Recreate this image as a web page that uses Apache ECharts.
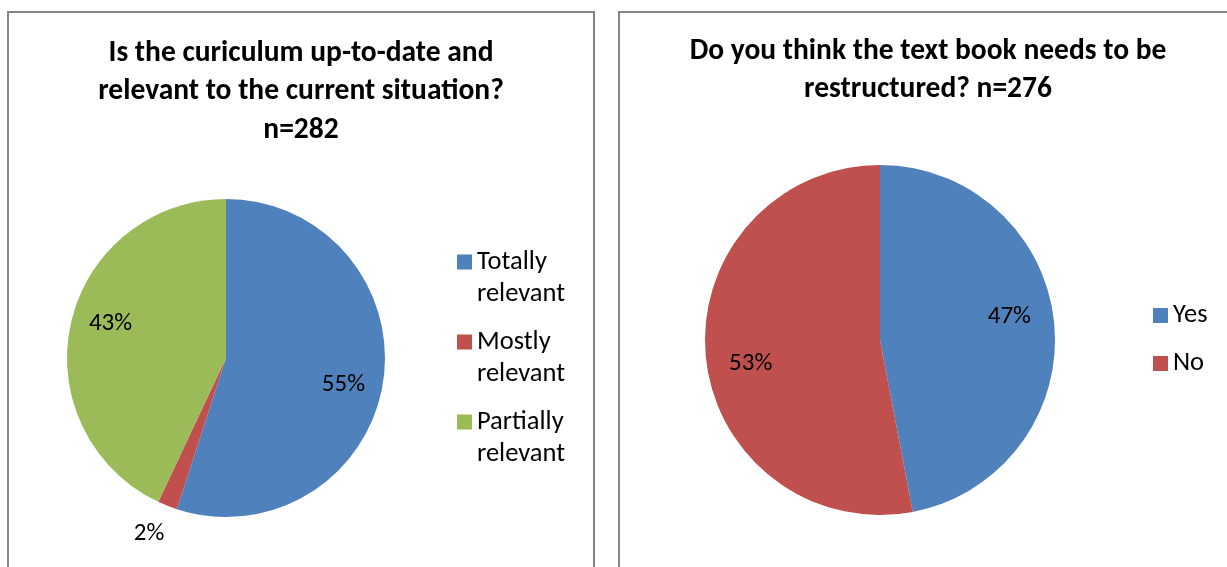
<!DOCTYPE html>
<html>
<head>
<meta charset="utf-8">
<script src="https://cdn.jsdelivr.net/npm/echarts@6/dist/echarts.min.js"></script>
<style>
html,body{margin:0;padding:0;background:#fff;}
#c{width:1227px;height:567px;}
</style>
</head>
<body>
<div id="c"></div>
<script>
// ---- data ----
var curCategories = ['Totally relevant', 'Mostly relevant', 'Partially relevant'];
var curValues = [55, 2, 43];
var curTitle = 'Is the curiculum up-to-date and\nrelevant to the current situation?\nn=282';

var bookCategories = ['Yes', 'No'];
var bookValues = [47, 53];
var bookTitle = 'Do you think the text book needs to be\nrestructured? n=276';

var curColors = ['#4F81BD', '#C0504D', '#9BBB59'];
var bookColors = ['#4F81BD', '#C0504D'];

var FONT = 'Carlito, Calibri, Lato, sans-serif';

function mk(names, values) {
  return names.map(function (n, i) { return { name: n, value: values[i] }; });
}
function pct(p) { return Math.round(p.percent) + '%'; }

var chart = echarts.init(document.getElementById('c'), null, { renderer: 'canvas' });

var labelStyle = { color: '#000', fontSize: 25, fontFamily: FONT };

var curInner = mk(curCategories, curValues).map(function (d, i) {
  d.label = { show: i !== 1 };
  return d;
});
var curOuter = mk(curCategories, curValues).map(function (d, i) {
  d.label = { show: i === 1 };
  return d;
});

var labelSeriesBase = {
  type: 'pie',
  silent: true,
  clockwise: true,
  itemStyle: { color: 'rgba(0,0,0,0)' },
  labelLine: { show: false },
  emphasis: { disabled: true },
  animation: false
};

var titleStyle = { fontSize: 29.5, fontWeight: 'bold', fontFamily: FONT, color: '#000', lineHeight: 38.5 };

var option = {
  animation: false,
  graphic: [
    { type: 'rect', shape: { x: 8, y: 12, width: 586, height: 600 }, style: { fill: 'none', stroke: '#868686', lineWidth: 2 } },
    { type: 'rect', shape: { x: 619, y: 12, width: 640, height: 600 }, style: { fill: 'none', stroke: '#868686', lineWidth: 2 } }
  ],
  title: [
    { text: curTitle, left: 301, top: 34, textAlign: 'center', padding: 0, textStyle: titleStyle },
    { text: bookTitle, left: 928, top: 32, textAlign: 'center', padding: 0, textStyle: titleStyle }
  ],
  legend: [
    { data: curCategories, orient: 'vertical', left: 457, top: 214, padding: 0,
      icon: 'rect', itemWidth: 15, itemHeight: 15, itemGap: -16,
      formatter: function (n) { return ' \n' + n.replace(' ', '\n'); },
      selectedMode: false,
      textStyle: { fontSize: 26.5, fontFamily: FONT, color: '#000', lineHeight: 32 } },
    { data: bookCategories, orient: 'vertical', left: 1153, top: 302, padding: 0,
      icon: 'rect', itemWidth: 15, itemHeight: 15, itemGap: 21,
      selectedMode: false,
      textStyle: { fontSize: 26.5, fontFamily: FONT, color: '#000', lineHeight: 27 } }
  ],
  series: [
    { type: 'pie', name: 'cur', center: [226, 358], radius: [0, 159], startAngle: 90, clockwise: true,
      data: mk(curCategories, curValues), color: curColors,
      label: { show: false }, labelLine: { show: false }, emphasis: { disabled: true }, silent: true },
    { type: 'pie', name: 'book', center: [880, 340], radius: [0, 175], startAngle: 90, clockwise: true,
      data: mk(bookCategories, bookValues), color: bookColors,
      label: { show: false }, labelLine: { show: false }, emphasis: { disabled: true }, silent: true },
    Object.assign({}, labelSeriesBase, {
      name: 'curLabIn', center: [226, 358], radius: [76, 159], startAngle: 86, data: curInner,
      label: Object.assign({ position: 'inside', formatter: pct }, labelStyle) }),
    Object.assign({}, labelSeriesBase, {
      name: 'curLabOut', center: [226, 358], radius: [159, 219], startAngle: 88, data: curOuter,
      label: Object.assign({ position: 'inside', formatter: pct }, labelStyle) }),
    Object.assign({}, labelSeriesBase, {
      name: 'bookLab', center: [880, 340], radius: [82, 175], startAngle: 95, data: mk(bookCategories, bookValues),
      label: Object.assign({ show: true, position: 'inside', formatter: pct }, labelStyle) })
  ]
};
chart.setOption(option);
</script>
</body>
</html>
